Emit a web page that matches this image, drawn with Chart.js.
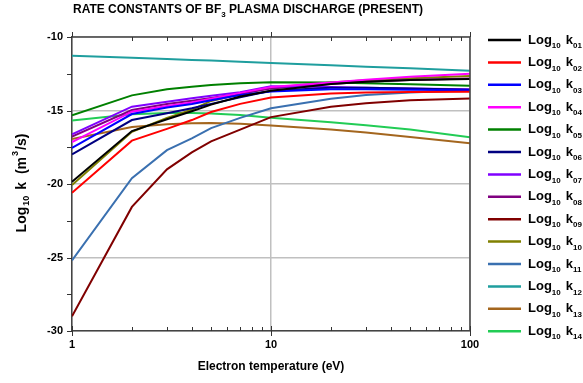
<!DOCTYPE html>
<html>
<head>
<meta charset="utf-8">
<script src="https://cdn.jsdelivr.net/npm/chart.js@4"></script>
<style>
  html, body { margin: 0; padding: 0; background: #fff; }
  #wrap { width: 583px; height: 383px; }
</style>
</head>
<body>
<div id="wrap"><canvas id="rateChart" width="583" height="383"></canvas></div>
<script>
// electron temperature (eV)
const temps = [1, 2, 3, 4, 5, 7, 10, 20, 30, 50, 100];

// log10 k values per reaction
const k01 = [-19.85, -16.4, -15.6, -15.05, -14.6, -14.05, -13.65, -13.2, -13.05, -12.92, -12.85];
const k02 = [-20.6, -17.05, -16.25, -15.65, -15.1, -14.55, -14.12, -13.85, -13.78, -13.74, -13.72];
const k03 = [-17.55, -15.24, -14.8, -14.56, -14.3, -13.95, -13.7, -13.55, -13.55, -13.58, -13.62];
const k04 = [-17.15, -15.08, -14.7, -14.46, -14.2, -13.8, -13.4, -13.1, -12.9, -12.7, -12.5];
const k05 = [-15.33, -13.97, -13.56, -13.38, -13.27, -13.15, -13.08, -13.1, -13.15, -13.22, -13.31];
const k06 = [-17.98, -15.65, -15.19, -14.85, -14.55, -14.1, -13.65, -13.45, -13.45, -13.5, -13.58];
const k07 = [-16.62, -14.74, -14.4, -14.17, -14.0, -13.75, -13.35, -13.4, -13.45, -13.5, -13.55];
const k08 = [-16.78, -14.97, -14.56, -14.33, -14.15, -13.85, -13.5, -13.2, -13.05, -12.92, -12.82];
const k09 = [-29.0, -21.56, -19.0, -17.85, -17.1, -16.3, -15.45, -14.75, -14.5, -14.3, -14.18];
const k10 = [-20.07, -16.45, -15.5, -14.95, -14.35, -13.9, -13.45, -13.1, -12.95, -12.8, -12.65];
const k11 = [-25.2, -19.6, -17.7, -16.9, -16.2, -15.5, -14.85, -14.2, -13.95, -13.78, -13.62];
const k12 = [-11.27, -11.42, -11.5, -11.56, -11.6, -11.68, -11.77, -11.93, -12.02, -12.13, -12.29];
const k13 = [-16.94, -16.12, -15.93, -15.87, -15.85, -15.9, -16.02, -16.3, -16.5, -16.8, -17.23];
const k14 = [-15.68, -15.25, -15.17, -15.17, -15.2, -15.3, -15.5, -15.8, -16.0, -16.3, -16.82];

const seriesIds = ['01', '02', '03', '04', '05', '06', '07', '08', '09', '10', '11', '12', '13', '14'];
const seriesValues = [k01, k02, k03, k04, k05, k06, k07, k08, k09, k10, k11, k12, k13, k14];
const seriesColors = ['#000000', '#ff0000', '#0000ff', '#ff00ff', '#008000', '#000080', '#8000ff',
                      '#800080', '#800000', '#808000', '#3a70b0', '#1f9e9e', '#a4661e', '#22cc55'];

const yTicks = [-30, -25, -20, -15, -10];
const xTicks = [1, 10, 100];

const FONT = '"Liberation Sans", Arial, sans-serif';

// draw text made of runs with different size / vertical offset
function richWidth(ctx, parts) {
    let w = 0;
    parts.forEach(p => {
        ctx.font = 'bold ' + p.size + 'px ' + FONT;
        w += ctx.measureText(p.t).width + (p.gap || 0);
    });
    return w;
}
function drawRich(ctx, parts, x, y) {
    let cx = x;
    parts.forEach(p => {
        ctx.font = 'bold ' + p.size + 'px ' + FONT;
        ctx.fillText(p.t, cx, y + (p.dy || 0));
        cx += ctx.measureText(p.t).width + (p.gap || 0);
    });
}

const decorPlugin = {
    id: 'decor',
    afterDraw(chart) {
        const ctx = chart.ctx;
        const area = chart.chartArea;
        const xs = chart.scales.x;
        const ys = chart.scales.y;
        ctx.save();
        ctx.fillStyle = '#000';
        ctx.textBaseline = 'middle';

        // frame top and right
        ctx.strokeStyle = '#444';
        ctx.lineWidth = 1.5;
        ctx.beginPath();
        ctx.moveTo(area.left, area.top);
        ctx.lineTo(area.right, area.top);
        ctx.lineTo(area.right, area.bottom);
        ctx.stroke();

        // tick marks
        ctx.lineWidth = 1;
        ctx.strokeStyle = '#333';
        ctx.beginPath();
        for (let v = -30; v <= -10; v += 2.5) {
            const py = Math.round(ys.getPixelForValue(v)) + 0.5;
            ctx.moveTo(area.left - 5, py);
            ctx.lineTo(area.left, py);
        }
        for (let d = 1; d <= 100; d *= 10) {
            for (let m = 1; m <= 9; m++) {
                const v = d * m;
                if (v > 100) break;
                const px = Math.round(xs.getPixelForValue(v)) + 0.5;
                if (m === 1) {
                    ctx.moveTo(px, area.bottom - 5);
                    ctx.lineTo(px, area.bottom + 5);
                    ctx.moveTo(px, area.top - 5);
                    ctx.lineTo(px, area.top);
                } else {
                    ctx.moveTo(px, area.bottom - 4);
                    ctx.lineTo(px, area.bottom);
                    ctx.moveTo(px, area.top);
                    ctx.lineTo(px, area.top + 4);
                }
            }
        }
        ctx.stroke();

        // title
        const titleParts = [
            { t: 'RATE CONSTANTS OF BF', size: 12 },
            { t: '3', size: 8, dy: 5 },
            { t: ' PLASMA DISCHARGE (PRESENT)', size: 12 }
        ];
        const tw = richWidth(ctx, titleParts);
        ctx.textAlign = 'left';
        drawRich(ctx, titleParts, 248 - tw / 2, 10);

        // x axis title
        ctx.font = 'bold 12px ' + FONT;
        ctx.textAlign = 'center';
        ctx.fillText('Electron temperature (eV)', (area.left + area.right) / 2, 367);

        // y axis title (rotated)
        ctx.textAlign = 'left';
        const yParts = [
            { t: 'Log', size: 14, gap: 1 },
            { t: '10', size: 9, dy: 5, gap: 6 },
            { t: 'k', size: 14, gap: 4 },
            { t: ' (m', size: 14, gap: 1 },
            { t: '3', size: 9, dy: -6, gap: 1 },
            { t: '/s)', size: 14 }
        ];
        const yw = richWidth(ctx, yParts);
        ctx.save();
        ctx.translate(22, 183);
        ctx.rotate(-Math.PI / 2);
        drawRich(ctx, yParts, -yw / 2, 0);
        ctx.restore();

        // legend
        const rowTop = 40;
        const rowGap = 22.4;
        seriesIds.forEach((id, i) => {
            const ry = rowTop + i * rowGap;
            ctx.strokeStyle = seriesColors[i];
            ctx.lineWidth = 2.5;
            ctx.beginPath();
            ctx.moveTo(488, ry);
            ctx.lineTo(521, ry);
            ctx.stroke();
            ctx.fillStyle = '#000';
            drawRich(ctx, [
                { t: 'Log', size: 13 },
                { t: '10', size: 8, dy: 6, gap: 5 },
                { t: 'k', size: 13 },
                { t: id, size: 8, dy: 6 }
            ], 528, ry);
        });
        ctx.restore();
    }
};

const datasets = seriesIds.map((id, i) => ({
    label: 'Log10 k' + id,
    data: temps.map((t, j) => ({ x: t, y: seriesValues[i][j] })),
    borderColor: seriesColors[i],
    backgroundColor: seriesColors[i],
    borderWidth: 2,
    pointRadius: 0,
    tension: 0,
    fill: false
}));

const rateChart = new Chart(document.getElementById('rateChart').getContext('2d'), {
    type: 'line',
    data: { datasets: datasets },
    options: {
        responsive: false,
        animation: false,
        events: [],
        layout: { padding: { top: 37, right: 113, left: 0, bottom: 0 } },
        plugins: {
            legend: { display: false },
            title: { display: false },
            tooltip: { enabled: false }
        },
        scales: {
            x: {
                type: 'logarithmic',
                min: 1,
                max: 100,
                afterFit: (s) => { s.height = 52; },
                afterBuildTicks: (s) => {
                    const t = [];
                    for (let d = 1; d <= 100; d *= 10) {
                        for (let m = 1; m <= 9; m++) { if (d * m <= 100) t.push({ value: d * m }); }
                    }
                    s.ticks = t;
                },
                border: { display: true, color: '#444', width: 1.5 },
                grid: {
                    drawTicks: false,
                    lineWidth: 1.5,
                    color: (c) => (xTicks.includes(c.tick && c.tick.value) ? '#c0c0c0' : 'rgba(0,0,0,0)')
                },
                ticks: {
                    autoSkip: false,
                    maxRotation: 0,
                    padding: 7,
                    color: '#000',
                    font: { family: FONT, size: 11, weight: 'bold' },
                    callback: (v) => (xTicks.includes(v) ? String(v) : '')
                }
            },
            y: {
                min: -30,
                max: -10,
                afterFit: (s) => { s.width = 72; },
                afterBuildTicks: (s) => { s.ticks = yTicks.map(v => ({ value: v })); },
                border: { display: true, color: '#444', width: 1.5 },
                grid: {
                    drawTicks: false,
                    lineWidth: 1.5,
                    color: '#c0c0c0'
                },
                ticks: {
                    padding: 9,
                    color: '#000',
                    font: { family: FONT, size: 11, weight: 'bold' }
                }
            }
        }
    },
    plugins: [decorPlugin]
});
</script>
</body>
</html>
